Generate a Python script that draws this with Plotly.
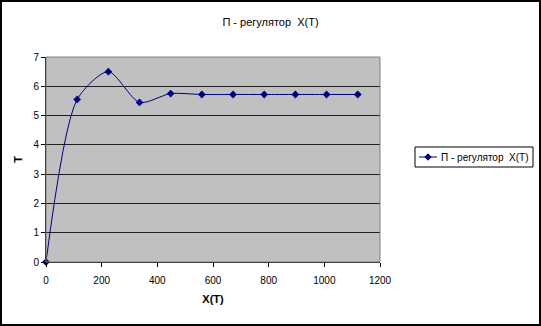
import plotly.graph_objects as go

# Data
x_vals = [0, 112, 224, 336, 448, 560, 672, 784, 896, 1008, 1120]
t_vals = [0, 5.55, 6.5, 5.45, 5.75, 5.72, 5.72, 5.72, 5.72, 5.72, 5.72]
series_name = "П - регулятор  X(T)"
title_text = "П - регулятор  X(T)"
x_title = "X(T)"
y_title = "T"

W, H = 541, 326
L, R, T, B = 46, 161, 57, 64
pw = W - L - R
ph = H - T - B

def px(xp):
    return (xp - L) / pw

def py(yp):
    return (H - B - yp) / ph

NAVY = "#000080"
fig = go.Figure()
fig.add_trace(go.Scatter(
    x=x_vals, y=t_vals, name=series_name, mode="lines+markers",
    line=dict(color=NAVY, width=1, shape="spline", smoothing=0.75),
    marker=dict(symbol="diamond", size=6, color=NAVY),
    cliponaxis=False, showlegend=False,
))

font = "Liberation Sans, Arial, sans-serif"

# manual legend (box, line sample, diamond, text)
lx0, lx1, ly0, ly1 = 415, 533, 147, 167
lyc = (ly0 + ly1) / 2
d = 3.2
diamond = "M {x0},{yc} L {xc},{y0} L {x1},{yc} L {xc},{y1} Z".format(
    x0=px(428 - d), x1=px(428 + d), xc=px(428), yc=py(lyc), y0=py(lyc - d), y1=py(lyc + d))

fig.update_layout(
    width=W, height=H,
    margin=dict(l=L, r=R, t=T, b=B, pad=0, autoexpand=False),
    paper_bgcolor="white",
    plot_bgcolor="#C0C0C0",
    font=dict(family=font, size=10, color="black"),
    title=dict(text=title_text, x=0.5, xanchor="center", y=1 - 22 / H, yanchor="middle",
               font=dict(size=11, family=font, color="black")),
    showlegend=False,
    xaxis=dict(range=[0, 1200], dtick=200, tick0=0, showgrid=False, zeroline=False,
               showline=True, linecolor="black", linewidth=1,
               ticks="outside", ticklen=4, tickcolor="black", ticklabelstandoff=5,
               title=dict(text="<b>" + x_title + "</b>", standoff=10,
                          font=dict(size=11, family=font))),
    yaxis=dict(range=[0, 7], dtick=1, tick0=0, showgrid=True, gridcolor="#202020",
               gridwidth=1.3, zeroline=False,
               showline=True, linecolor="black", linewidth=1,
               ticks="outside", ticklen=4, tickcolor="black",
               title=dict(text="<b>" + y_title + "</b>", standoff=8,
                          font=dict(size=11, family=font))),
    shapes=[
        dict(type="rect", xref="paper", yref="paper", x0=0, x1=1, y0=0, y1=1,
             line=dict(color="#808080", width=1), fillcolor="rgba(0,0,0,0)", layer="above"),
        dict(type="rect", xref="paper", yref="paper",
             x0=px(1), x1=px(W - 1), y0=py(H - 1), y1=py(1),
             line=dict(color="black", width=2), fillcolor="rgba(0,0,0,0)"),
        dict(type="rect", xref="paper", yref="paper",
             x0=px(lx0), x1=px(lx1), y0=py(ly1), y1=py(ly0),
             line=dict(color="black", width=1), fillcolor="white"),
        dict(type="line", xref="paper", yref="paper",
             x0=px(419), x1=px(437), y0=py(lyc), y1=py(lyc),
             line=dict(color=NAVY, width=1)),
        dict(type="path", xref="paper", yref="paper", path=diamond,
             line=dict(color=NAVY, width=1), fillcolor=NAVY),
    ],
    annotations=[
        dict(text=series_name, xref="paper", yref="paper", x=px(439), y=py(lyc),
             xanchor="left", yanchor="middle", showarrow=False,
             font=dict(size=10, family=font, color="black")),
    ],
)

fig.write_html("out.html")
